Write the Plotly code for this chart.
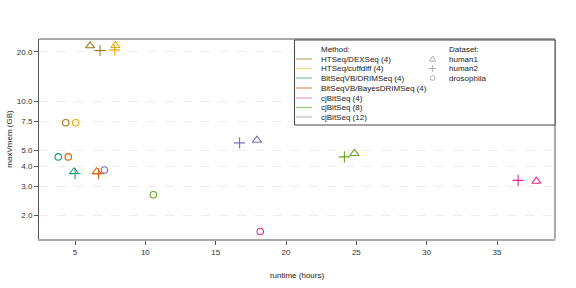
import plotly.graph_objects as go
import math

methods = ["HTSeq/DEXSeq (4)", "HTSeq/cuffdiff (4)", "BitSeqVB/DRIMSeq (4)",
           "BitSeqVB/BayesDRIMSeq (4)", "cjBitSeq (4)", "cjBitSeq (8)", "cjBitSeq (12)"]
colors = ["#A6761D", "#E6AB02", "#1B9E77", "#D95F02", "#E7298A", "#66A61E", "#7570B3"]
legend_colors = ["rgba(166,118,29,0.6)", "rgba(230,171,2,0.5)", "rgba(27,158,119,0.55)",
                 "rgba(217,95,2,0.6)", "rgba(231,41,138,0.45)", "rgba(102,166,30,0.6)",
                 "rgba(117,112,179,0.45)"]
datasets = ["human1", "human2", "drosophila"]
symbols = ["triangle-up-open", "cross-thin-open", "circle-open"]
marker_sizes = [8, 8, 6.5]

# runtime (hours) per method for human1, human2, drosophila
runtime = {
    "HTSeq/DEXSeq (4)": [6.07, 6.78, 4.34],
    "HTSeq/cuffdiff (4)": [7.87, 7.82, 5.05],
    "BitSeqVB/DRIMSeq (4)": [4.93, 5.00, 3.81],
    "BitSeqVB/BayesDRIMSeq (4)": [6.54, 6.68, 4.52],
    "cjBitSeq (4)": [37.8, 36.5, 18.17],
    "cjBitSeq (8)": [24.86, 24.15, 10.57],
    "cjBitSeq (12)": [17.93, 16.7, 7.09],
}
# maxVmem (GB)
maxvmem = {
    "HTSeq/DEXSeq (4)": [21.8, 20.4, 7.36],
    "HTSeq/cuffdiff (4)": [21.9, 20.6, 7.36],
    "BitSeqVB/DRIMSeq (4)": [3.69, 3.60, 4.55],
    "BitSeqVB/BayesDRIMSeq (4)": [3.69, 3.59, 4.55],
    "cjBitSeq (4)": [3.23, 3.27, 1.59],
    "cjBitSeq (8)": [4.78, 4.55, 2.67],
    "cjBitSeq (12)": [5.76, 5.55, 3.78],
}
x_ticks = [5, 10, 15, 20, 25, 30, 35]
y_ticks = [2, 3, 4, 5, 7.5, 10, 20]
y_ticktext = ["2.0", "3.0", "4.0", "5.0", "7.5", "10.0", "20.0"]

W, H = 576, 288
L, R, T, B = 39, 555, 39, 239

def px(x):
    return (x - L) / (R - L)

def py(y):
    return (B - y) / (B - T)

fig = go.Figure()
for m, c in zip(methods, colors):
    for i, (d, s) in enumerate(zip(datasets, symbols)):
        fig.add_trace(go.Scatter(
            x=[runtime[m][i]], y=[maxvmem[m][i]], mode="markers",
            marker=dict(symbol=s, size=marker_sizes[i], color=c, line=dict(color=c, width=1.1)),
            showlegend=False, name=f"{m} {d}", cliponaxis=False))

shapes = []
annotations = []
# top and right frame lines
shapes.append(dict(type="line", xref="paper", yref="paper", x0=0, x1=1, y0=1, y1=1,
                   line=dict(color="#555555", width=1), layer="above"))
shapes.append(dict(type="line", xref="paper", yref="paper", x0=1, x1=1, y0=0, y1=1,
                   line=dict(color="#aaaaaa", width=2), layer="above"))
# legend box
shapes.append(dict(type="rect", xref="paper", yref="paper", x0=px(294.5), x1=1, y0=py(125), y1=py(40),
                   fillcolor="white", line=dict(color="#444444", width=1), layer="above"))
font = dict(family="Liberation Sans, Arial, sans-serif", size=8, color="#222222")
rows = [59, 68.5, 78, 88, 98, 107.5, 117]
annotations.append(dict(x=px(319), y=py(49), xref="paper", yref="paper", text="Method:",
                        showarrow=False, xanchor="left", yanchor="middle", font=font))
for m, lc, yy in zip(methods, legend_colors, rows):
    shapes.append(dict(type="line", xref="paper", yref="paper", x0=px(296), x1=px(312),
                       y0=py(yy), y1=py(yy), line=dict(color=lc, width=1.3), layer="above"))
    annotations.append(dict(x=px(319), y=py(yy), xref="paper", yref="paper", text=m,
                            showarrow=False, xanchor="left", yanchor="middle", font=font))
annotations.append(dict(x=px(447), y=py(49), xref="paper", yref="paper", text="Dataset:",
                        showarrow=False, xanchor="left", yanchor="middle", font=font))
g = "#b0b0b0"
sx = 432.7
for d, yy in zip(datasets, rows[:3]):
    annotations.append(dict(x=px(447), y=py(yy), xref="paper", yref="paper", text=d,
                            showarrow=False, xanchor="left", yanchor="middle", font=font))
# dataset symbols (legend glyphs)
y0 = rows[0]
shapes.append(dict(type="path", xref="paper", yref="paper",
                   path=f"M {px(sx-3)},{py(y0+2.2)} L {px(sx+3)},{py(y0+2.2)} L {px(sx)},{py(y0-3)} Z",
                   line=dict(color=g, width=1), layer="above"))
y1 = rows[1]
shapes.append(dict(type="line", xref="paper", yref="paper", x0=px(sx-3.5), x1=px(sx+3.5), y0=py(y1), y1=py(y1),
                   line=dict(color=g, width=1), layer="above"))
shapes.append(dict(type="line", xref="paper", yref="paper", x0=px(sx), x1=px(sx), y0=py(y1-3.5), y1=py(y1+3.5),
                   line=dict(color=g, width=1), layer="above"))
y2 = rows[2]
shapes.append(dict(type="circle", xref="paper", yref="paper", x0=px(sx-2.3), x1=px(sx+2.3),
                   y0=py(y2+2.3), y1=py(y2-2.3), line=dict(color=g, width=1), layer="above"))

fig.update_layout(
    width=W, height=H, plot_bgcolor="white", paper_bgcolor="white",
    margin=dict(l=L, r=W - R, t=T, b=H - B, pad=0),
    font=font, shapes=shapes, annotations=annotations, showlegend=False,
    xaxis=dict(range=[2.44, 39.12], tickvals=x_ticks, ticks="outside", ticklen=4,
               tickcolor="#555555", showline=True, linecolor="#aaaaaa", linewidth=2,
               showgrid=False, zeroline=False, tickfont=dict(size=8, color="#333333"),
               automargin=False,
               title=dict(text="runtime (hours)", font=dict(size=8, color="#222222"), standoff=17)),
    yaxis=dict(type="log", range=[math.log10(1.43), math.log10(24.0)], tickvals=y_ticks,
               ticktext=y_ticktext, ticks="outside", ticklen=4, tickcolor="#555555",
               showline=True, linecolor="#555555", linewidth=1, showgrid=True,
               gridcolor="#ececec", griddash="dash", gridwidth=1, zeroline=False,
               tickfont=dict(size=8, color="#333333"), automargin=False,
               title=dict(text="maxVmem (GB)", font=dict(size=8, color="#222222"), standoff=3)),
)
fig.write_html("out.html", config={"displayModeBar": False},
               post_script="document.body.style.margin='0';document.body.style.overflow='hidden';")
